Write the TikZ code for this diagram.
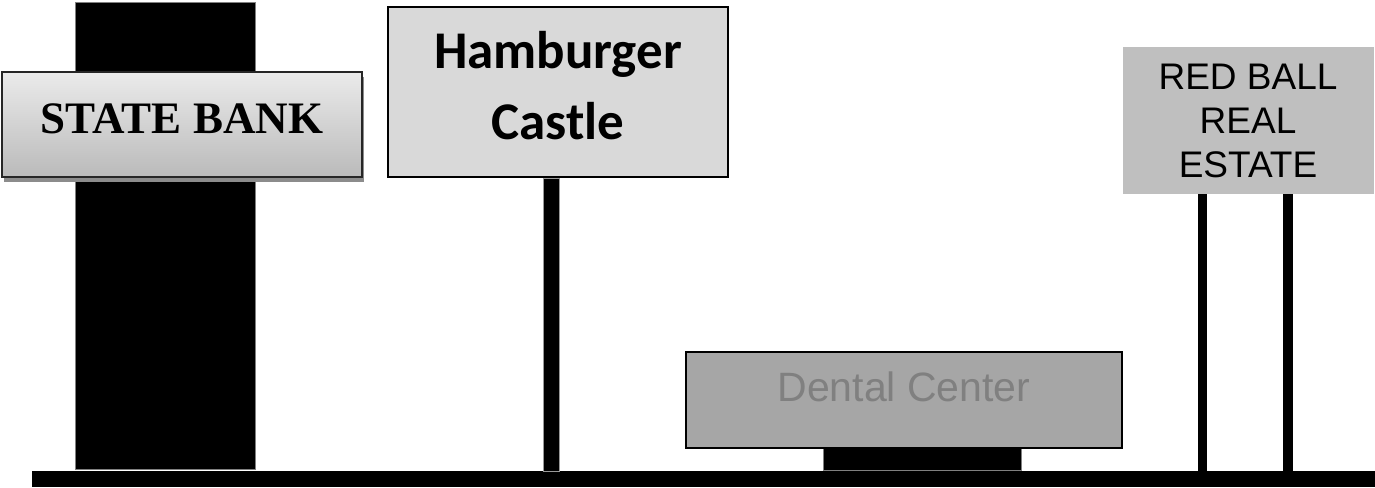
\documentclass[tikz,border=0pt]{standalone}
\usepackage{fontspec}
\usetikzlibrary{shadows}
\newfontfamily\banktype{Liberation Serif}
\newfontfamily\burgertype{Carlito}
\newfontfamily\arialtype{Liberation Sans}

\begin{document}
\begin{tikzpicture}[x=1pt,y=-1pt]

    \useasboundingbox (0,0) rectangle (1375,487);

    \node (ground) [fill=black,inner sep=0pt,minimum width=1343pt,minimum height=16pt] at (703.5,479) {};
    \node (tower) [fill=black,draw=black!50,line width=0.8pt,inner sep=0pt,minimum width=180pt,minimum height=467pt] at (165,235.5) {};

    \node (bank) [draw=black!85,line width=1.5pt,top color=black!8,bottom color=black!27,
        drop shadow={shadow xshift=1.5pt,shadow yshift=-5pt,fill=black!45,opacity=1},
        inner sep=0pt,minimum width=360pt,minimum height=105pt,text depth=11pt,
        font=\banktype\bfseries\fontsize{45}{54}\selectfont] at (182,124.5) {STATE BANK};

    \node (castle) [draw,line width=1.5pt,fill=black!15,inner sep=0pt,minimum width=340pt,minimum height=170pt,
        align=center,text depth=14pt,font=\burgertype\bfseries\fontsize{53}{71}\selectfont] at (558,92) {Hamburger\\Castle};
    \fill[draw=black!40] ([xshift=-15pt]castle.south) rectangle ([xshift=1pt]castle.south |- ground.north);

    \node (plinth) [fill=black,draw=black!50,line width=0.8pt,inner sep=0pt,minimum width=198pt,minimum height=25pt,anchor=south] at (ground.north -| 922,0) {};
    \node (dental) [draw,line width=2pt,fill=black!35,text=black!50,inner sep=0pt,minimum width=436pt,minimum height=96pt,
        text depth=27pt,font=\arialtype\fontsize{41}{49}\selectfont] at (904,400) {Dental Center};

    \node (realty) [fill=black!25,inner sep=0pt,minimum width=251pt,minimum height=147pt,
        align=center,font=\arialtype\fontsize{37}{44}\selectfont] at (1248,120.5) {RED BALL\\REAL\\ESTATE};
    \foreach \px/\pw in {1198/1207,1283/1293}
        \fill (\px,0 |- realty.south) rectangle (\pw,0 |- ground.north);

\end{tikzpicture}
\end{document}
